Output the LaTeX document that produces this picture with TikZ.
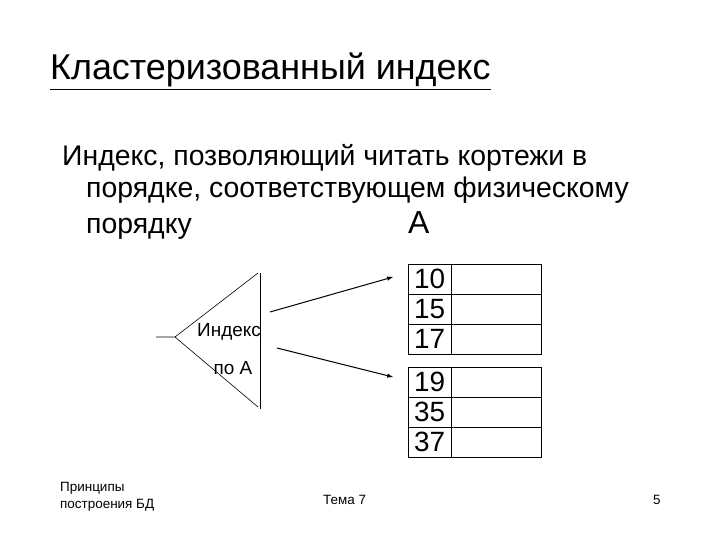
\documentclass[tikz,border=0pt]{standalone}
\usepackage{fontspec}
\setmainfont{Liberation Sans}
\begin{document}
\begin{tikzpicture}[x=1bp,y=-1bp,
  cell/.style={draw,minimum width=43bp,minimum height=30bp,inner sep=0,font=\fontsize{28}{28}\selectfont},
  wide/.style={draw,minimum width=90bp,minimum height=30bp,inner sep=0},
  ln/.style={line width=0.6pt},
  arr/.style={line width=1pt,-latex}]
\useasboundingbox (0,0) rectangle (720,540);
\node[anchor=base west,font=\fontsize{36}{36}\selectfont,inner sep=0] (title) at (50,80) {\underline{Кластеризованный индекс}};
\node[anchor=base west,font=\fontsize{28.5}{28.5}\selectfont,inner sep=0] (l1) at (62,166) {Индекс, позволяющий читать кортежи в};
\node[anchor=base west,font=\fontsize{28.5}{28.5}\selectfont,inner sep=0] (l2) at (86,198) {порядке, соответствующем физическому};
\node[anchor=base west,font=\fontsize{28.5}{28.5}\selectfont,inner sep=0] (l3) at (86,234) {порядку};
\node[anchor=base west,font=\fontsize{32}{32}\selectfont,inner sep=0] (A) at (408,234) {A};
% triangle
\coordinate (apex) at (175,337);
\coordinate (tail) at (156,337);
\coordinate (top) at (260,273);
\coordinate (bot) at (260,409);
\draw[ln] (tail) -- (apex) -- (258,273);
\draw[ln] (apex) -- (258,407);
\draw[ln] (top) -- (bot);
\node[font=\fontsize{19}{19}\selectfont] (idx) at (229,332) {Индекс};
\node[font=\fontsize{19}{19}\selectfont] (poA) at (233,368) {по A};
% tables
\foreach \i/\v in {0/10,1/15,2/17}{
  \node[cell,anchor=north west] (a\i) at (408,{264+30*\i}) {\v};
  \node[wide,anchor=north west] (aw\i) at (451,{264+30*\i}) {};
}
\foreach \i/\v in {0/19,1/35,2/37}{
  \node[cell,anchor=north west] (b\i) at (408,{367+30*\i}) {\v};
  \node[wide,anchor=north west] (bw\i) at (451,{367+30*\i}) {};
}
\coordinate (s1) at (270,312); \coordinate (e1) at (393,277);
\coordinate (s2) at (277,348); \coordinate (e2) at (393,377);
\draw[arr] (s1) -- (e1);
\draw[arr] (s2) -- (e2);
% footer
\node[anchor=north west,align=left,font=\fontsize{13.5}{17}\selectfont,inner sep=0] (f1) at (60,482) {Принципы\\построения БД};
\node[anchor=north west,font=\fontsize{13.5}{17}\selectfont,inner sep=0] (f2) at (323,495) {Тема 7};
\node[anchor=north west,font=\fontsize{13.5}{17}\selectfont,inner sep=0] (f3) at (653,495) {5};
\end{tikzpicture}
\end{document}
